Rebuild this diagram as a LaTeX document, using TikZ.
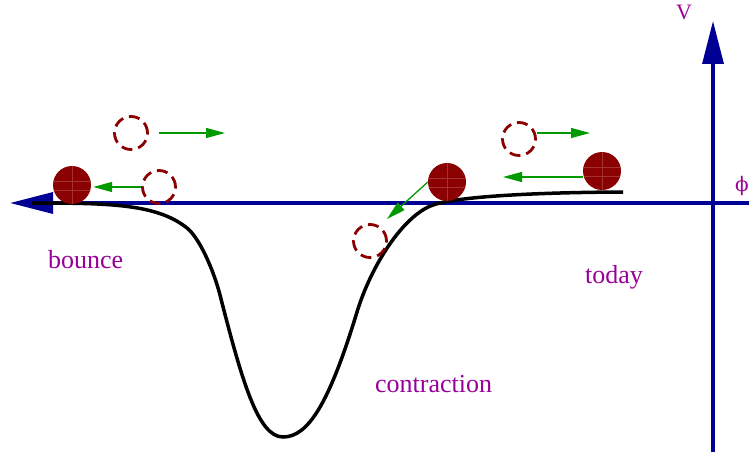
\documentclass[tikz,border=0pt]{standalone}
\usepackage{fontspec}
\setmainfont{Liberation Serif}
\newfontfamily\greekfont{DejaVu Serif}
\usetikzlibrary{arrows.meta,calc}
\definecolor{PotNavy}{HTML}{000094}
\definecolor{PotRed}{HTML}{8B0000}
\definecolor{PotGreen}{HTML}{009900}
\definecolor{PotPurple}{HTML}{990099}

\begin{document}
\begin{tikzpicture}[
    x=1pt, y=-1pt,
    potaxis/.style={
      -{Triangle[length=43pt,width=21pt]},
      draw=PotNavy,
      line width=3.3pt
    },
    potential/.style={
      draw=black,
      line width=3.5pt
    },
    ball/.style={
      circle,
      fill=PotRed,
      minimum size=38pt,
      inner sep=0pt,
      path picture={
        \draw[PotRed!80!white, line width=0.5pt]
          ($(path picture bounding box.center)+(0,-20)$) -- ++(0,40)
          ($(path picture bounding box.center)+(-20,-4)$) -- ++(40,0)
          ($(path picture bounding box.center)+(-20,5)$) -- ++(40,0);
      }
    },
    ghost/.style={
      circle,
      draw=PotRed,
      line width=2.8pt,
      dash pattern=on 11pt off 6pt,
      minimum size=33pt,
      inner sep=0pt
    },
    push/.style={
      -{Triangle[length=19pt,width=10pt]},
      draw=PotGreen,
      line width=1.3pt
    },
    tag/.style={
      text=PotPurple,
      inner sep=0pt,
      font=\fontsize{26}{30}\selectfont
    }
  ]
  \useasboundingbox (0,0) rectangle (749,452);

  % axes
  \coordinate (phiStart) at (749,203);
  \coordinate (phiTip) at (10,203);
  \coordinate (vStart) at (713,452);
  \coordinate (vTip) at (713,21);
  \draw[potaxis] (phiStart) -- (phiTip);
  \draw[potaxis] (vStart) -- (vTip);

  % the potential: flat, deep well, slow rise to today
  \draw[potential] (32,203)
    .. controls (110,203) and (157,204) .. (187,228)
    .. controls (200,238.4) and (214,271.6) .. (220,295)
    .. controls (242,381) and (258,437) .. (283,437)
    .. controls (308,437) and (329,404) .. (357,312)
    .. controls (371,266) and (403,215.5) .. (433,205)
    .. controls (463,194.8) and (560,192.3) .. (623,192);

  % field positions
  \node[ball] (ballBounce) at (72,185) {};
  \node[ball] (ballMid) at (447,182) {};
  \node[ball] (ballToday) at (602,171) {};
  \node[ghost] (ghostA) at (131,133) {};
  \node[ghost] (ghostB) at (159,187) {};
  \node[ghost] (ghostC) at (370,241) {};
  \node[ghost] (ghostD) at (519,139) {};

  % motion
  \coordinate (rollA) at (225,133);
  \coordinate (dropC) at (387,219);
  \coordinate (rollD) at (590,133);
  \coordinate (rollE) at (503,177);
  \draw[push, shorten <=10pt] (ghostA.east) -- (rollA);
  \draw[push, shorten >=2pt] (ghostB.west) -- (ghostB.west -| ballBounce.east);
  \draw[push] (ballMid.west) -- (dropC);
  \draw[push] (rollD -| ghostD.east) -- (rollD);
  \draw[push] (rollE -| ballToday.west) -- (rollE);

  % labels
  \node[tag, anchor=base west] (bounceLabel) at (48,268) {bounce};
  \node[tag, anchor=base west] (contractionLabel) at (375,392) {contraction};
  \node[tag, anchor=base west] (todayLabel) at (585,283) {today};
  \node[tag, anchor=base west, font=\fontsize{22}{24}\selectfont] (vLabel) at (676,20) {V};
  \node[tag, font=\greekfont\fontsize{20}{22}\selectfont] (phiLabel) at (742,186) {ϕ};

\end{tikzpicture}
\end{document}
